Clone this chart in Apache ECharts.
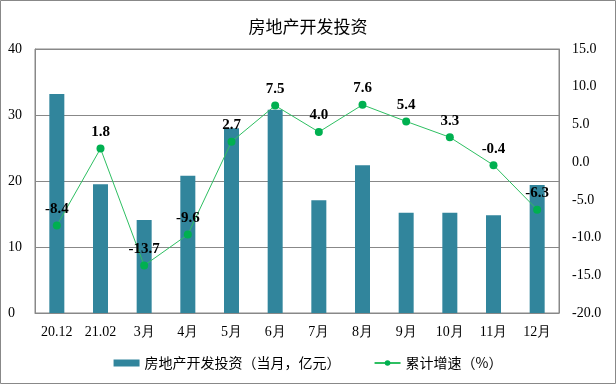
<!DOCTYPE html>
<html><head><meta charset="utf-8">
<script src="https://cdn.jsdelivr.net/npm/echarts@6/dist/echarts.min.js"></script>
<style>html,body{margin:0;padding:0;background:#fff}#c{width:616px;height:384px}</style>
</head><body><div id="c"></div>
<script>
var categories = ['20.12','21.02','3月','4月','5月','6月','7月','8月','9月','10月','11月','12月'];
var investMonthly = [33.2, 19.5, 14.1, 20.8, 28.0, 30.8, 17.1, 22.4, 15.2, 15.2, 14.8, 19.4];
var cumGrowth = [-8.4, 1.8, -13.7, -9.6, 2.7, 7.5, 4.0, 7.6, 5.4, 3.3, -0.4, -6.3];
var seriesNames = ['房地产开发投资（当月，亿元）', '累计增速（%）'];
var titleText = '房地产开发投资';

var serif = '"Liberation Serif","Times New Roman",serif';
var cjk = '"Noto Sans CJK SC","Microsoft YaHei",sans-serif';
var chart = echarts.init(document.getElementById('c'), null, {renderer:'canvas'});
chart.setOption({
  animation: false,
  backgroundColor: '#fff',
  graphic: [{type:'rect', shape:{x:0.5,y:0.5,width:615,height:383}, style:{fill:'none',stroke:'#888',lineWidth:1}, silent:true}],
  title: {text: titleText, left: 'center', top: 13, textStyle:{fontFamily:cjk, fontSize:17, fontWeight:'normal', color:'#000'}},
  legend: {
    bottom: 9, left: 'center', itemGap: 33, itemWidth: 26, itemHeight: 7,
    textStyle:{fontFamily:cjk, fontSize:14, color:'#000'},
    data: [
      {name: seriesNames[0], icon:'rect'},
      {name: seriesNames[1]}
    ]
  },
  grid: {left:35, right:57, top:49, bottom:71, show:true, borderColor:'#888', borderWidth:1},
  xAxis: {
    type:'category', data: categories, boundaryGap:true,
    axisLine:{lineStyle:{color:'#888'}},
    axisTick:{inside:true, length:5, lineStyle:{color:'#888'}},
    axisLabel:{fontFamily:serif, fontSize:14, color:'#000', margin:12, interval:0}
  },
  yAxis: [
    {type:'value', min:0, max:40, interval:10,
     axisLine:{show:true, lineStyle:{color:'#888'}}, axisTick:{show:false},
     splitLine:{lineStyle:{color:'#888'}},
     axisLabel:{fontFamily:serif, fontSize:14, color:'#000', align:'left', margin:27}},
    {type:'value', min:-20, max:15, interval:5, position:'right',
     axisLine:{show:true, lineStyle:{color:'#888'}}, axisTick:{show:false},
     splitLine:{show:false},
     axisLabel:{fontFamily:serif, fontSize:14, color:'#000', margin:13, formatter:function(v){return v.toFixed(1);}}}
  ],
  series: [
    {name: seriesNames[0], type:'bar', data: investMonthly, barWidth:15, yAxisIndex:0,
     itemStyle:{color:'#31859C'}},
    {name: seriesNames[1], type:'line', data: cumGrowth, yAxisIndex:1,
     symbol:'circle', symbolSize:8,
     lineStyle:{color:'#2EBF62', width:1}, itemStyle:{color:'#00B050'},
     label:{show:true, position:'top', distance:5, fontFamily:serif, fontSize:15, fontWeight:'bold', color:'#000',
       formatter:function(p){return p.value.toFixed(1);}}}
  ]
});
</script></body></html>
